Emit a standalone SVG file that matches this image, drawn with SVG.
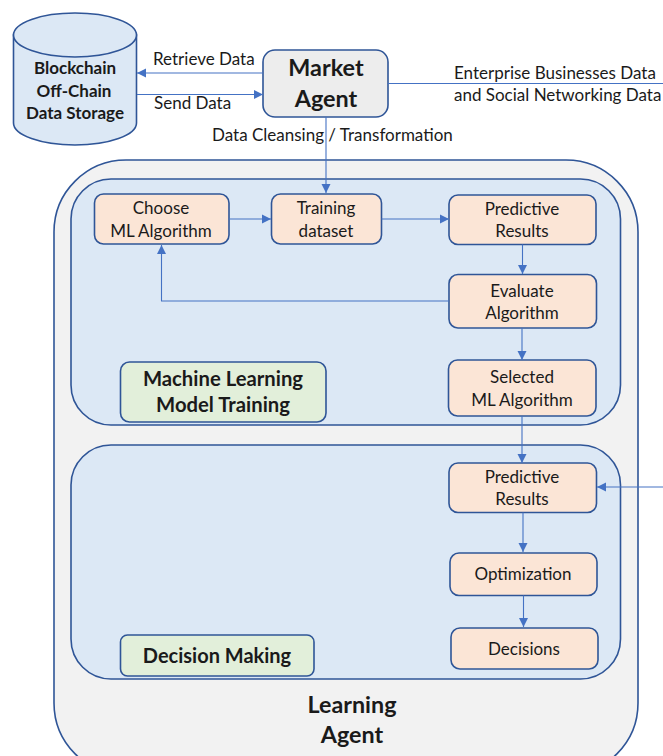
<svg xmlns="http://www.w3.org/2000/svg" width="663" height="756" viewBox="0 0 663 756">
<style>
text{font-family:"Lato","Open Sans","Liberation Sans",sans-serif;fill:#1a1a1a;text-anchor:middle;font-size:17px}
.l{text-anchor:start}
.b{font-weight:700}
.box{fill:#fbe5d6;stroke:#2f5597;stroke-width:1.6}
.panel{fill:#dce8f5;stroke:#2f5597;stroke-width:1.6}
.green{fill:#e2efda;stroke:#2f5597;stroke-width:1.6}
.c{fill:none;stroke:#4472c4;stroke-width:1.1}
</style>
<defs><marker id="a" markerUnits="userSpaceOnUse" markerWidth="10" markerHeight="10" refX="9" refY="5" orient="auto"><path d="M0 0.5L9 5L0 9.5Z" fill="#4472c4"/></marker></defs>
<g id="learning-agent"><rect x="54" y="160" width="584" height="615" rx="72" fill="#f2f2f2" stroke="#2f5597" stroke-width="1.6"/>
<text class="b" x="352" y="713" style="font-size:23.300px">Learning</text><text class="b" x="352" y="743" style="font-size:23.300px">Agent</text></g>
<g id="ml-panel"><rect class="panel" x="71" y="179" width="549.500" height="246" rx="40"/></g>
<g id="dm-panel"><rect class="panel" x="71" y="445" width="549.500" height="234" rx="40"/></g>
<g id="storage"><path d="M13.500 35V123A61.500 22 0 0 0 136.500 123V35Z" fill="#dce8f5" stroke="#2f5597" stroke-width="1.600"/><ellipse cx="75" cy="35" rx="61.500" ry="22" fill="#dce8f5" stroke="#2f5597" stroke-width="1.600"/>
<text class="b" x="75" y="74">Blockchain</text><text class="b" x="74" y="97">Off-Chain</text><text class="b" x="75" y="119">Data Storage</text></g>
<g id="market"><rect x="263" y="50" width="125" height="67" rx="12" fill="#ededed" stroke="#2f5597" stroke-width="1.600"/><text class="b" x="326" y="76" style="font-size:23.400px">Market</text><text class="b" x="326" y="107" style="font-size:23.400px">Agent</text></g>
<g id="choose"><rect class="box" x="94.500" y="194" width="134.500" height="50" rx="9"/><text x="161" y="214">Choose</text><text x="161" y="237">ML Algorithm</text></g>
<g id="training"><rect class="box" x="271.500" y="194" width="110" height="50" rx="9"/><text x="326" y="214">Training</text><text x="326" y="237">dataset</text></g>
<g id="predictive1"><rect class="box" x="449" y="195" width="147" height="49.500" rx="9"/><text x="522" y="215">Predictive</text><text x="522" y="237">Results</text></g>
<g id="evaluate"><rect class="box" x="449" y="274.500" width="147.500" height="53.500" rx="9"/><text x="522" y="297">Evaluate</text><text x="522" y="319">Algorithm</text></g>
<g id="selected"><rect class="box" x="448.500" y="360" width="147.500" height="56" rx="9"/><text x="522" y="383">Selected</text><text x="522" y="406">ML Algorithm</text></g>
<g id="predictive2"><rect class="box" x="449" y="463" width="147.500" height="49.500" rx="9"/><text x="522" y="483">Predictive</text><text x="522" y="505">Results</text></g>
<g id="optimization"><rect class="box" x="450" y="553" width="147" height="42.500" rx="9"/><text x="523" y="580">Optimization</text></g>
<g id="decisions"><rect class="box" x="451" y="628" width="147" height="41" rx="9"/><text x="524" y="655">Decisions</text></g>
<g id="ml-label"><rect class="green" x="120.500" y="362" width="205.500" height="60" rx="9"/><text class="b" x="223" y="386" style="font-size:20.300px">Machine Learning</text><text class="b" x="223" y="412" style="font-size:20.300px">Model Training</text></g>
<g id="dm-label"><rect class="green" x="120.500" y="635" width="193.500" height="41" rx="7"/><text class="b" x="217" y="663" style="font-size:20px">Decision Making</text></g>
<g id="connectors">
<path class="c" marker-end="url(#a)" d="M263 73H137"/>
<path class="c" marker-end="url(#a)" d="M137 94.500H263"/>
<path class="c" marker-end="url(#a)" d="M326 117V193"/>
<path class="c" d="M388 83.500H663"/>
<path class="c" marker-end="url(#a)" d="M229 219H271"/>
<path class="c" marker-end="url(#a)" d="M381.500 219H449"/>
<path class="c" marker-end="url(#a)" d="M522.500 244.500V274"/>
<path class="c" marker-end="url(#a)" d="M449 301H161.500V245"/>
<path class="c" marker-end="url(#a)" d="M522 328V360"/>
<path class="c" marker-end="url(#a)" d="M522 416V463"/>
<path class="c" marker-end="url(#a)" d="M663 487H597"/>
<path class="c" marker-end="url(#a)" d="M523 512.500V552"/>
<path class="c" marker-end="url(#a)" d="M523.500 595.500V627"/>
</g>
<g id="labels">
<text class="l" x="153" y="65">Retrieve Data</text>
<text class="l" x="154" y="109">Send Data</text>
<text class="l" x="212" y="141">Data Cleansing / Transformation</text>
<text class="l" x="454" y="79">Enterprise Businesses Data</text>
<text class="l" x="454" y="101">and Social Networking Data</text>
</g>
</svg>
